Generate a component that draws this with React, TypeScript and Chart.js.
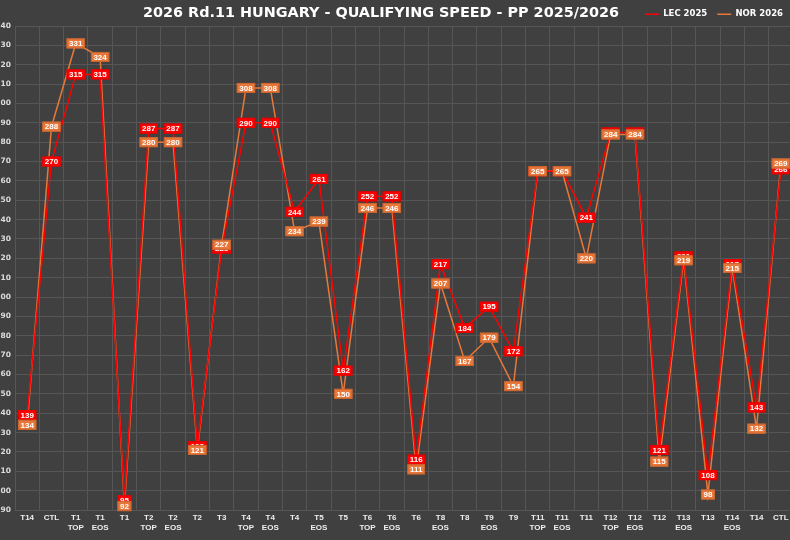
import React, { useEffect, useRef } from "react";
import { Chart, registerables } from "chart.js";

Chart.register(...registerables);

const TITLE = "2026 Rd.11 HUNGARY - QUALIFYING SPEED - PP 2025/2026";
const SERIES_NAMES = ["LEC 2025", "NOR 2026"];

const categories: string[][] = [
  ["T14"], ["CTL"], ["T1", "TOP"], ["T1", "EOS"], ["T1"], ["T2", "TOP"], ["T2", "EOS"], ["T2"],
  ["T3"], ["T4", "TOP"], ["T4", "EOS"], ["T4"], ["T5", "EOS"], ["T5"], ["T6", "TOP"], ["T6", "EOS"],
  ["T6"], ["T8", "EOS"], ["T8"], ["T9", "EOS"], ["T9"], ["T11", "TOP"], ["T11", "EOS"], ["T11"],
  ["T12", "TOP"], ["T12", "EOS"], ["T12"], ["T13", "EOS"], ["T13"], ["T14", "EOS"], ["T14"], ["CTL"],
];

const lecSpeeds = [139, 270, 315, 315, 95, 287, 287, 123, 225, 290, 290, 244, 261, 162, 252, 252,
  116, 217, 184, 195, 172, 265, 265, 241, 285, 285, 121, 221, 108, 217, 143, 266];
const norSpeeds = [134, 288, 331, 324, 92, 280, 280, 121, 227, 308, 308, 234, 239, 150, 246, 246,
  111, 207, 167, 179, 154, 265, 265, 220, 284, 284, 115, 219, 98, 215, 132, 269];

const Y_MIN = 90;
const Y_MAX = 340;
const Y_STEP = 10;

const LEC_COLOR = "#ff0000";
const LEC_BORDER = "#e00000";
const NOR_COLOR = "#e8773a";
const NOR_BORDER = "#c9652f";
const BG = "#404040";
const GRID = "#565656";
const FONT = "'Liberation Sans', Arial, sans-serif";
const WIDE_FONT = "'DejaVu Sans', sans-serif";

const OFFSET_LEFT = 20;
const CANVAS_W = 830;
const CANVAS_H = 540;
const TITLE_CENTER_X = 381 + OFFSET_LEFT;

export default function App() {
  const ref = useRef<HTMLCanvasElement>(null);

  useEffect(() => {
    const canvas = ref.current;
    if (!canvas) return;

    const bgPlugin = {
      id: "bgFill",
      beforeDraw(chart: any) {
        const ctx = chart.ctx;
        ctx.save();
        ctx.fillStyle = BG;
        ctx.fillRect(0, 0, chart.width, chart.height);
        ctx.restore();
      },
    };

    const titlePlugin = {
      id: "titleText",
      afterDraw(chart: any) {
        const ctx = chart.ctx;
        ctx.save();
        ctx.font = `bold 14.4px ${WIDE_FONT}`;
        ctx.fillStyle = "#ffffff";
        ctx.textAlign = "center";
        ctx.textBaseline = "middle";
        ctx.fillText(TITLE, TITLE_CENTER_X, 13.5);
        ctx.restore();
      },
    };

    const boxLabelPlugin = {
      id: "boxLabels",
      afterDatasetsDraw(chart: any) {
        const ctx = chart.ctx;
        ctx.save();
        ctx.font = `bold 8px ${FONT}`;
        ctx.textAlign = "center";
        ctx.textBaseline = "middle";
        const styles = [
          { fill: LEC_COLOR, border: LEC_BORDER },
          { fill: NOR_COLOR, border: NOR_BORDER },
        ];
        chart.data.datasets.forEach((ds: any, i: number) => {
          const meta = chart.getDatasetMeta(i);
          meta.data.forEach((pt: any, j: number) => {
            const text = String(ds.data[j]);
            const w = ctx.measureText(text).width + 5;
            const h = 10;
            const x = pt.x - w / 2;
            const y = pt.y - h / 2;
            ctx.fillStyle = styles[i].fill;
            ctx.fillRect(x, y, w, h);
            ctx.strokeStyle = styles[i].border;
            ctx.lineWidth = 1;
            ctx.strokeRect(x + 0.5, y + 0.5, w - 1, h - 1);
            ctx.fillStyle = "#ffffff";
            ctx.fillText(text, pt.x, pt.y + 0.5);
          });
        });
        ctx.restore();
      },
    };

    const chart = new Chart(canvas, {
      type: "line",
      data: {
        labels: categories,
        datasets: [
          {
            label: SERIES_NAMES[0],
            data: lecSpeeds,
            borderColor: LEC_COLOR,
            backgroundColor: LEC_COLOR,
            borderWidth: 1.5,
            pointRadius: 0,
            tension: 0,
          },
          {
            label: SERIES_NAMES[1],
            data: norSpeeds,
            borderColor: NOR_COLOR,
            backgroundColor: NOR_COLOR,
            borderWidth: 1.5,
            pointRadius: 0,
            tension: 0,
          },
        ],
      },
      options: {
        responsive: false,
        animation: false,
        layout: { padding: { left: 0, right: 17, top: 0, bottom: 0 } },
        plugins: {
          title: { display: false },
          tooltip: { enabled: false },
          legend: {
            display: true,
            position: "top",
            align: "end",
            maxHeight: 26,
            labels: {
              usePointStyle: true,
              pointStyle: "line",
              pointStyleWidth: 14,
              padding: 10,
              color: "#ffffff",
              font: { family: WIDE_FONT, size: 8.5, weight: "bold" },
            },
          },
        },
        scales: {
          x: {
            offset: true,
            grid: { color: GRID, lineWidth: 1, drawTicks: false, offset: true },
            border: { display: false },
            ticks: {
              color: "#eeeeee",
              font: { family: FONT, size: 8, weight: "bold" },
              maxRotation: 0,
              autoSkip: false,
              padding: 3,
            },
            afterFit(scale: any) {
              scale.height = 30;
            },
          },
          y: {
            min: Y_MIN,
            max: Y_MAX,
            grid: { color: GRID, lineWidth: 1, drawTicks: false },
            border: { display: false },
            ticks: {
              stepSize: Y_STEP,
              color: "#dddddd",
              font: { family: WIDE_FONT, size: 7.5, weight: "bold" },
              padding: 4,
            },
            afterFit(scale: any) {
              scale.width = 35;
            },
          },
        },
      },
      plugins: [bgPlugin, boxLabelPlugin, titlePlugin],
    } as any);

    return () => {
      chart.destroy();
    };
  }, []);

  return (
    <div
      style={{
        position: "fixed",
        left: 0,
        top: 0,
        width: 790,
        height: 540,
        overflow: "hidden",
        background: BG,
      }}
    >
      <canvas
        ref={ref}
        width={CANVAS_W}
        height={CANVAS_H}
        style={{ display: "block", marginLeft: -OFFSET_LEFT, width: CANVAS_W, height: CANVAS_H }}
      />
    </div>
  );
}
